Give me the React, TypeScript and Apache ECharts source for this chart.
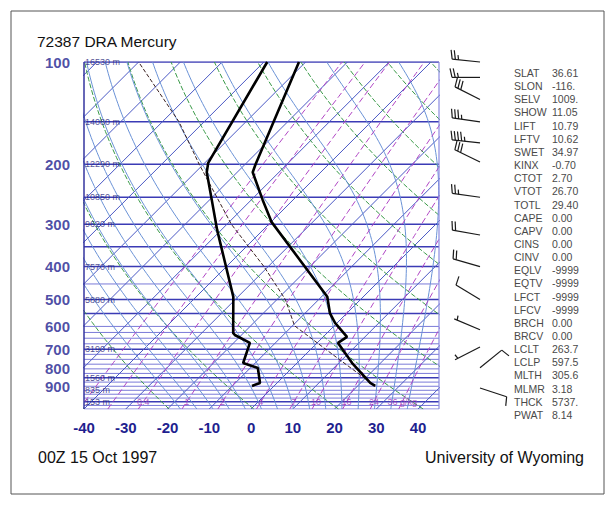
import React, { useEffect, useRef } from "react";
import * as echarts from "echarts";

// ---------- text ----------
const stationTitle = "72387 DRA Mercury";
const timeLabel = "00Z 15 Oct 1997";
const sourceLabel = "University of Wyoming";

// ---------- axes ----------
const pressureTicks = [100, 200, 300, 400, 500, 600, 700, 800, 900];
const tempTicks = [-40, -30, -20, -10, 0, 10, 20, 30, 40];
const heightLevels = [100, 150, 200, 250, 300, 400, 500, 700, 850, 925, 1000];
const heightLabels = ["16530 m", "14080 m", "12290 m", "10850 m", "9620 m", "7570 m", "5880 m", "3190 m", "1560 m", "835 m", "153 m"];

// ---------- background line families ----------
const isobarsThick = [100, 150, 200, 250, 300, 350, 400, 500, 550, 700, 850, 1000];
const isobarsThin = [450, 600, 625, 650, 675, 725, 750, 775, 800, 825, 875, 900, 925, 950, 975, 1025, 1050];
const isotherms = [-120, -110, -100, -90, -80, -70, -60, -50, -40, -30, -20, -10, 0, 10, 20, 30, 40];
const dryAdiabats = [230, 250, 270, 290, 310, 330, 350, 370, 390, 410, 430, 450];
const moistAdiabats = [-20, -16, -12, -8, -4, 0, 4, 8, 12, 16, 20, 24, 28, 32, 36];
const mixingRatios = [0.1, 0.2, 0.4, 1, 2, 4, 7, 10, 16, 24, 36];
const mixingLabels = [0.4, 1, 2, 4, 7, 10, 16, 24, 36];

// ---------- sounding ----------
const tempP = [100, 200, 211, 255, 296, 491, 548, 586, 644, 671, 769, 880, 898];
const tempT = [-71.6, -57.5, -56.3, -47.2, -39.8, -8.6, -4.1, -0.5, 5.7, 5.0, 13.2, 22.3, 24.2];
const dewP = [100, 198, 211, 255, 312, 491, 627, 636, 671, 769, 795, 880, 898];
const dewT = [-79.2, -69.2, -67.3, -59.4, -51.0, -31.1, -22.5, -21.6, -16.1, -12.9, -8.2, -4.1, -5.3];
const parcelP = [898, 750, 597.5, 500, 400, 300, 200, 150, 100];
const parcelT = [24.2, 9.2, -9.5, -18, -31, -49, -71, -86, -110];

// ---------- winds ----------
const windP = [100, 111, 129, 150, 173, 197, 250, 323, 400, 500, 614, 690, 794, 911];
const windDir = [276, 270, 297, 278, 276, 296, 278, 280, 286, 301, 293, 243, 51, 108];
const windSpd = [25, 25, 30, 35, 45, 30, 25, 20, 20, 10, 5, 5, 10, 10];

// ---------- indices ----------
const statNames = ["SLAT", "SLON", "SELV", "SHOW", "LIFT", "LFTV", "SWET", "KINX", "CTOT", "VTOT", "TOTL", "CAPE", "CAPV", "CINS", "CINV", "EQLV", "EQTV", "LFCT", "LFCV", "BRCH", "BRCV", "LCLT", "LCLP", "MLTH", "MLMR", "THCK", "PWAT"];
const statValues = ["36.61", "-116.", "1009.", "11.05", "10.79", "10.62", "34.97", "-0.70", "2.70", "26.70", "29.40", "0.00", "0.00", "0.00", "0.00", "-9999", "-9999", "-9999", "-9999", "0.00", "0.00", "263.7", "597.5", "305.6", "3.18", "5737.", "8.14"];

const P_BOT = 1050;
const P_TOP = 100;
const SKEW = 35.33; // deg C per ln(p) unit -> 45 degree isotherms
const FONT = "Liberation Sans, Arial, sans-serif";
const NAVY = "#1f1f8f";

const skewX = (t: number, p: number) => t + SKEW * Math.log(P_BOT / p);

const pLevels = (n: number) => {
  const out: number[] = [];
  for (let i = 0; i <= n; i++) out.push(Math.exp(Math.log(P_BOT) + (Math.log(P_TOP) - Math.log(P_BOT)) * (i / n)));
  return out;
};

const es = (tc: number) => 6.112 * Math.exp((17.67 * tc) / (tc + 243.5));
const Rd = 287.04, Cp = 1005.7, Lv = 2.501e6, EPS = 0.622;
const lapse = (tk: number, p: number) => {
  const e = es(tk - 273.15);
  const rs = (EPS * e) / Math.max(p - e, 1e-6);
  return (Rd * tk + Lv * rs) / (Cp + (Lv * Lv * rs * EPS) / (Rd * tk * tk));
};
const integrate = (tk0: number, p0: number, p1: number, n: number) => {
  const pts: [number, number][] = [];
  let tk = tk0;
  let lp = Math.log(p0);
  const dl = (Math.log(p1) - Math.log(p0)) / n;
  pts.push([tk, p0]);
  for (let i = 0; i < n; i++) {
    const k1 = lapse(tk, Math.exp(lp));
    const k2 = lapse(tk + (k1 * dl) / 2, Math.exp(lp + dl / 2));
    tk += k2 * dl;
    lp += dl;
    pts.push([tk, Math.exp(lp)]);
  }
  return pts;
};

const lineSeries = (data: number[][], color: string, width: number, type: any, z = 1) => ({
  type: "line",
  data,
  xAxisIndex: 0,
  yAxisIndex: 0,
  showSymbol: false,
  symbol: "none",
  silent: true,
  clip: true,
  z,
  lineStyle: { color, width, type },
});

export default function App() {
  const ref = useRef<HTMLDivElement>(null);
  useEffect(() => {
    document.body.style.margin = "0";
    if (!ref.current) return;
    const chart = echarts.init(ref.current, undefined, { renderer: "svg" });
    const series: any[] = [];

    isobarsThin.forEach((p) => series.push(lineSeries([[-40, p], [45, p]], "#7a7ad8", 1, "solid")));
    isobarsThick.forEach((p) => series.push(lineSeries([[-40, p], [45, p]], "#3b3bb5", 1.5, "solid")));

    isotherms.forEach((t) => series.push(lineSeries([[skewX(t, P_BOT), P_BOT], [skewX(t, P_TOP), P_TOP]], "#4a58c4", 1, "solid")));

    dryAdiabats.forEach((th) => {
      const d = pLevels(40).map((p) => [skewX(th * Math.pow(p / 1000, 0.2857) - 273.15, p), p]);
      series.push(lineSeries(d, "#3a9a48", 1, [5, 2]));
    });

    moistAdiabats.forEach((t0) => {
      const up = integrate(t0 + 273.15, 1000, P_TOP, 90);
      const down = integrate(t0 + 273.15, 1000, P_BOT, 4).reverse();
      const all = down.concat(up.slice(1));
      series.push(lineSeries(all.map(([tk, p]) => [skewX(tk - 273.15, p), p]), "#6a92d6", 1, "solid"));
    });

    const tdOf = (w: number, p: number) => {
      const e = (w * p) / (622 + w);
      const l = Math.log(e / 6.112);
      return (243.5 * l) / (17.67 - l);
    };
    mixingRatios.forEach((w) => {
      const d = pLevels(30).map((p) => [skewX(tdOf(w, p), p), p]);
      series.push(lineSeries(d, "#b045c4", 1, [6, 3]));
    });

    series.push(lineSeries([[-40, P_TOP], [-40, P_BOT]], "#34349f", 1.5, "solid", 2));
    series.push(lineSeries([[45, P_TOP], [45, P_BOT]], "#8a8ae0", 1.2, "solid", 2));

    series.push(lineSeries(parcelP.map((p, i) => [skewX(parcelT[i], p), p]), "#3a2020", 1, [4, 2], 4));
    series.push(lineSeries(dewP.map((p, i) => [skewX(dewT[i], p), p]), "#000000", 2.6, "solid", 5));
    series.push(lineSeries(tempP.map((p, i) => [skewX(tempT[i], p), p]), "#000000", 2.6, "solid", 5));

    series.push({
      type: "scatter",
      xAxisIndex: 0,
      yAxisIndex: 0,
      symbolSize: 0,
      clip: false,
      silent: true,
      z: 6,
      data: pressureTicks.map((p) => [-40, p]),
      label: {
        show: true,
        position: "left",
        distance: 14,
        formatter: (o: any) => String(o.value[1]),
        fontFamily: FONT,
        fontWeight: "bold",
        fontSize: 15,
        color: NAVY,
      },
    });
    series.push({
      type: "scatter",
      xAxisIndex: 0,
      yAxisIndex: 0,
      symbolSize: 0,
      clip: false,
      silent: true,
      z: 6,
      data: heightLevels.map((p) => [-40, p]),
      label: {
        show: true,
        position: "right",
        distance: 1,
        formatter: (o: any) => heightLabels[o.dataIndex],
        fontFamily: FONT,
        fontSize: 9,
        color: "#26267a",
      },
    });
    series.push({
      type: "scatter",
      xAxisIndex: 0,
      yAxisIndex: 0,
      symbolSize: 0,
      clip: false,
      silent: true,
      z: 6,
      data: mixingLabels.map((w) => [skewX(tdOf(w, 1000), 1000), 1000]),
      label: {
        show: true,
        position: "inside",
        formatter: (o: any) => (o.dataIndex === mixingLabels.length - 1 ? mixingLabels[o.dataIndex] + " g/kg" : String(mixingLabels[o.dataIndex])),
        fontFamily: FONT,
        fontSize: 9,
        color: "#a030b8",
      },
    });

    // wind barbs
    series.push({
      type: "custom",
      coordinateSystem: "cartesian2d",
      xAxisIndex: 1,
      yAxisIndex: 1,
      silent: true,
      clip: false,
      z: 6,
      data: windP.map((p) => [1, p]),
      renderItem: (params: any, api: any) => {
        const idx = params.dataIndex;
        const p = windP[idx];
        const dir = (windDir[idx] * Math.PI) / 180;
        const spd = windSpd[idx];
        const pt = api.coord([1, p]);
        const ux = Math.sin(dir);
        const uy = -Math.cos(dir);
        const L = 28;
        const ex = pt[0] + ux * L;
        const ey = pt[1] + uy * L;
        const bx = -uy;
        const by = ux;
        const style = { stroke: "#1a1a1a", lineWidth: 1.2, fill: "none" };
        const children: any[] = [{ type: "line", shape: { x1: pt[0], y1: pt[1], x2: ex, y2: ey }, style }];
        const full = Math.floor(spd / 10);
        const half = spd % 10 >= 5 ? 1 : 0;
        let k = 0;
        const sp = 3.2;
        if (full === 0 && half) k = 1;
        for (let i = 0; i < full; i++, k++) {
          const sx = ex - ux * sp * k;
          const sy = ey - uy * sp * k;
          children.push({ type: "line", shape: { x1: sx, y1: sy, x2: sx + bx * 9 + ux * 2, y2: sy + by * 9 + uy * 2 }, style });
        }
        if (half) {
          const sx = ex - ux * sp * k;
          const sy = ey - uy * sp * k;
          children.push({ type: "line", shape: { x1: sx, y1: sy, x2: sx + bx * 4.5 + ux * 1, y2: sy + by * 4.5 + uy * 1 }, style });
        }
        return { type: "group", children };
      },
    });

    const graphic: any[] = [
      { type: "rect", shape: { x: 11, y: 11, width: 593, height: 483 }, style: { fill: "none", stroke: "#555", lineWidth: 1 }, z: 10 },
      { type: "text", x: 37, y: 41, style: { text: stationTitle, font: `15.5px ${FONT}`, fill: "#111", textVerticalAlign: "middle" } },
      { type: "text", x: 38, y: 457, style: { text: timeLabel, font: `16px ${FONT}`, fill: "#111", textVerticalAlign: "middle" } },
      { type: "text", x: 584, y: 457, style: { text: sourceLabel, font: `16px ${FONT}`, fill: "#111", textAlign: "right", textVerticalAlign: "middle" } },
    ];
    statNames.forEach((n, i) => {
      const y = 73 + i * 13.15;
      graphic.push({ type: "text", x: 514, y, style: { text: n, font: `10.5px ${FONT}`, fill: "#4a4a4a", textVerticalAlign: "middle" } });
      graphic.push({ type: "text", x: 552, y, style: { text: statValues[i], font: `10.5px ${FONT}`, fill: "#4a4a4a", textVerticalAlign: "middle" } });
    });

    chart.setOption({
      animation: false,
      backgroundColor: "#ffffff",
      grid: [
        { left: 84, top: 62, width: 355, height: 347 },
        { left: 440, top: 62, width: 40, height: 347 },
      ],
      xAxis: [
        {
          type: "value",
          gridIndex: 0,
          min: -40,
          max: 45,
          interval: 10,
          axisLine: { show: false },
          axisTick: { show: false },
          splitLine: { show: false },
          axisLabel: {
            show: true,
            margin: 11,
            formatter: (v: number) => (tempTicks.indexOf(v) >= 0 ? String(v) : ""),
            fontFamily: FONT,
            fontWeight: "bold",
            fontSize: 15,
            color: NAVY,
          },
        },
        { type: "value", gridIndex: 1, min: 0, max: 1, show: false },
      ],
      yAxis: [
        {
          type: "log",
          logBase: 10,
          gridIndex: 0,
          min: P_TOP,
          max: P_BOT,
          inverse: true,
          axisLine: { show: false },
          axisTick: { show: false },
          axisLabel: { show: false },
          splitLine: { show: false },
        },
        { type: "log", logBase: 10, gridIndex: 1, min: P_TOP, max: P_BOT, inverse: true, show: false },
      ],
      graphic,
      series,
    });
    return () => chart.dispose();
  }, []);
  return <div ref={ref} style={{ position: "absolute", left: 0, top: 0, width: 616, height: 506 }} />;
}
